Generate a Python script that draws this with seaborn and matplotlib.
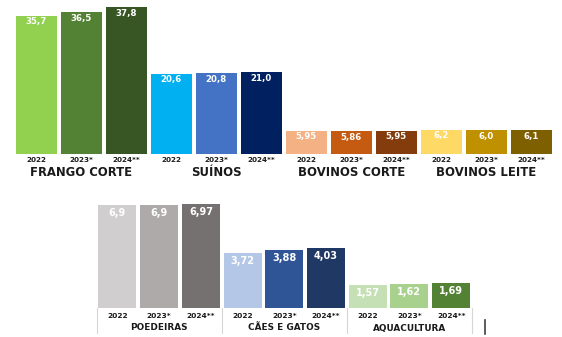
import matplotlib
matplotlib.use("Agg")
import matplotlib.pyplot as plt
import matplotlib.transforms as mtransforms
import seaborn as sns
import pandas as pd

# ---- data -------------------------------------------------------------
years = ["2022", "2023*", "2024**"]

top_groups = ["FRANGO CORTE", "SUÍNOS", "BOVINOS CORTE", "BOVINOS LEITE"]
top_labels = [
    ["35,7", "36,5", "37,8"],
    ["20,6", "20,8", "21,0"],
    ["5,95", "5,86", "5,95"],
    ["6,2", "6,0", "6,1"],
]
top_colors = [
    ["#92D050", "#548235", "#375623"],
    ["#00B0F0", "#4472C4", "#002060"],
    ["#F4B183", "#C55A11", "#843C0C"],
    ["#FFD966", "#BF9000", "#7F6000"],
]

bottom_groups = ["POEDEIRAS", "CÃES E GATOS", "AQUACULTURA"]
bottom_labels = [
    ["6,9", "6,9", "6,97"],
    ["3,72", "3,88", "4,03"],
    ["1,57", "1,62", "1,69"],
]
bottom_colors = [
    ["#D0CECE", "#AEAAAA", "#767171"],
    ["#B4C7E7", "#2F5597", "#203864"],
    ["#C5E0B4", "#A9D18E", "#548235"],
]

FONT = "DejaVu Sans"
W, H = 562, 337


def build_frame(groups, labels, colors):
    rows = []
    for g, labs, cols in zip(groups, labels, colors):
        for y, lab, col in zip(years, labs, cols):
            rows.append({"key": f"{g}|{y}", "group": g, "year": y,
                         "label": lab, "value": float(lab.replace(",", ".")),
                         "color": col})
    return pd.DataFrame(rows)


def draw_panel(ax, df, groups, ymax, value_size, value_off_px, year_size,
               year_pad_px, group_size, group_off_px):
    palette = dict(zip(df["key"], df["color"]))
    sns.barplot(data=df, x="key", y="value", hue="key", palette=palette,
                order=list(df["key"]), hue_order=list(df["key"]),
                width=0.91, saturation=1, legend=False, ax=ax)
    ax.set_xlim(-0.5, len(df) - 0.5)
    ax.set_ylim(0, ymax)
    for s in ax.spines.values():
        s.set_visible(False)
    ax.set_yticks([])
    ax.set_ylabel("")
    ax.set_xlabel("")
    ax.set_xticks(range(len(df)))
    ax.set_xticklabels(df["year"], fontsize=year_size, fontweight="bold",
                       family=FONT, color="#1a1a1a")
    ax.tick_params(axis="x", length=0, pad=year_pad_px * 0.72)

    for i, row in df.reset_index(drop=True).iterrows():
        ax.annotate(row["label"], xy=(i, row["value"]),
                    xytext=(0, -value_off_px * 0.72), textcoords="offset points",
                    ha="center", va="center", color="white",
                    fontsize=value_size, fontweight="bold", family=FONT)

    for k, g in enumerate(groups):
        ax.annotate(g, xy=(3 * k + 1, 0), xycoords=("data", "axes fraction"),
                    xytext=(0, -group_off_px * 0.72), textcoords="offset points",
                    ha="center", va="center", color="#1a1a1a",
                    fontsize=group_size, fontweight="bold", family=FONT)


fig = plt.figure(figsize=(W / 100, H / 100), dpi=100)
fig.patch.set_facecolor("white")

# upper chart
top_df = build_frame(top_groups, top_labels, top_colors)
ax_top = fig.add_axes([13.7 / W, 183.3 / H, 540 / W, 150 / H])
ax_top.set_facecolor("none")
draw_panel(ax_top, top_df, top_groups, 150 / 3.87, value_size=6.2,
           value_off_px=6, year_size=5.2, year_pad_px=3.5,
           group_size=8.4, group_off_px=19)

# lower chart
bot_df = build_frame(bottom_groups, bottom_labels, bottom_colors)
ax_bot = fig.add_axes([96.6 / W, 29 / H, 375.4 / W, 110 / H])
ax_bot.set_facecolor("none")
draw_panel(ax_bot, bot_df, bottom_groups, 110 / 14.9, value_size=7,
           value_off_px=8, year_size=5.4, year_pad_px=5,
           group_size=6.4, group_off_px=20)

# table-style separators under the lower chart
trans = mtransforms.blended_transform_factory(ax_bot.transData, ax_bot.transAxes)
for xs in [-0.5, 2.5, 5.5, 8.5]:
    ax_bot.plot([xs, xs], [0, -25 / 110], transform=trans, color="#d6d6d6",
                lw=0.8, clip_on=False)

# small dark tick at the lower right
fig.add_artist(plt.Line2D([485 / W, 485 / W], [1 - 334 / H, 1 - 320 / H],
                          color="#404040", lw=1.2))

fig.savefig("out.png", dpi=100, facecolor="white")
